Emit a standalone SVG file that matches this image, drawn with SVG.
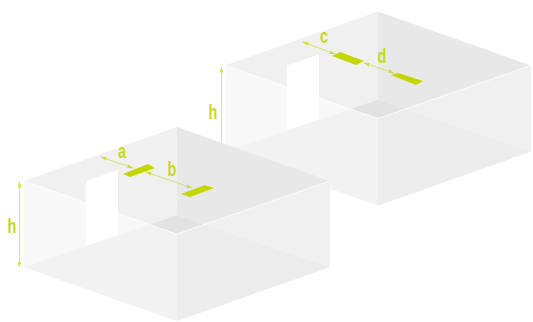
<svg xmlns="http://www.w3.org/2000/svg" width="533" height="322" viewBox="0 0 533 322">
<style>
.bl{fill:#f0f0f0}.br{fill:#e8e8e8}.fl{fill:#e2e2e2}.d{fill:#fff}.j{fill:none;stroke:#ececec;stroke-width:1}
.fa{fill:#fff;fill-opacity:.56}.fb{fill:#fff;fill-opacity:.36}.e{fill:none;stroke:#fff;stroke-width:1.2;stroke-opacity:.7}
.g{fill:#c3d600}.ln{fill:none;stroke:#c3d600;stroke-width:.8;opacity:.7}
.t{font-family:"Liberation Sans",Arial,sans-serif;font-weight:700;font-size:20px;fill:#c6d820;text-anchor:middle}
</style>
<defs>
<marker id="ah" viewBox="0 0 6 4" refX="5.500" refY="2" markerWidth="6" markerHeight="4" markerUnits="userSpaceOnUse" orient="auto-start-reverse"><path d="M0 0L6 2L0 4z" fill="#c3d600"/></marker>
<g id="box">
<path class="bl" d="M24 181L177 127V215L24 267z"/>
<path class="br" d="M177 127L330 181V267L177 215z"/>
<path class="d" d="M86 181L118 170V235L86 246z"/>
<path class="j" d="M118.500 170V235"/>
<path class="fl" d="M24 267L177 215L330 267L177 321z"/>
<path class="fa" d="M24 181L177 234V321L24 267z"/>
<path class="fb" d="M177 234L330 181V267L177 321z"/>
<path class="e" d="M24 181L177 234L330 181"/>
</g>
</defs>
<g id="box-upper"><use href="#box" transform="translate(201 -115.500)"/></g>
<g id="box-lower"><use href="#box"/></g>
<g id="markers">
<path class="g" d="M123 174L148 164L155 168L130 177z"/>
<path class="g" d="M181 194L205 185L214 188L190 197z"/>
<path class="g" d="M332 56L340 52L364 61L356 65z"/>
<path class="g" d="M391 75L398 73L423 81L416 85z"/>
</g>
<g id="connectors">
<path class="ln" marker-start="url(#ah)" marker-end="url(#ah)" d="M101 157L133 168"/>
<path class="ln" marker-start="url(#ah)" marker-end="url(#ah)" d="M146 172L192 188"/>
<path class="ln" marker-start="url(#ah)" marker-end="url(#ah)" d="M303 42L335 54"/>
<path class="ln" marker-start="url(#ah)" marker-end="url(#ah)" d="M364 63L394 73"/>
<path class="ln" marker-start="url(#ah)" marker-end="url(#ah)" d="M19.500 182V267"/>
<path class="ln" marker-start="url(#ah)" d="M221.500 67V143"/>
</g>
<g id="labels">
<text class="t" transform="translate(122 158) scale(.72 1)">a</text>
<text class="t" transform="translate(172 176) scale(.72 1)">b</text>
<text class="t" transform="translate(324 43) scale(.72 1)">c</text>
<text class="t" transform="translate(382 63) scale(.72 1)">d</text>
<text class="t" transform="translate(12 233) scale(.72 1)">h</text>
<text class="t" transform="translate(213 119) scale(.72 1)">h</text>
</g>
</svg>
